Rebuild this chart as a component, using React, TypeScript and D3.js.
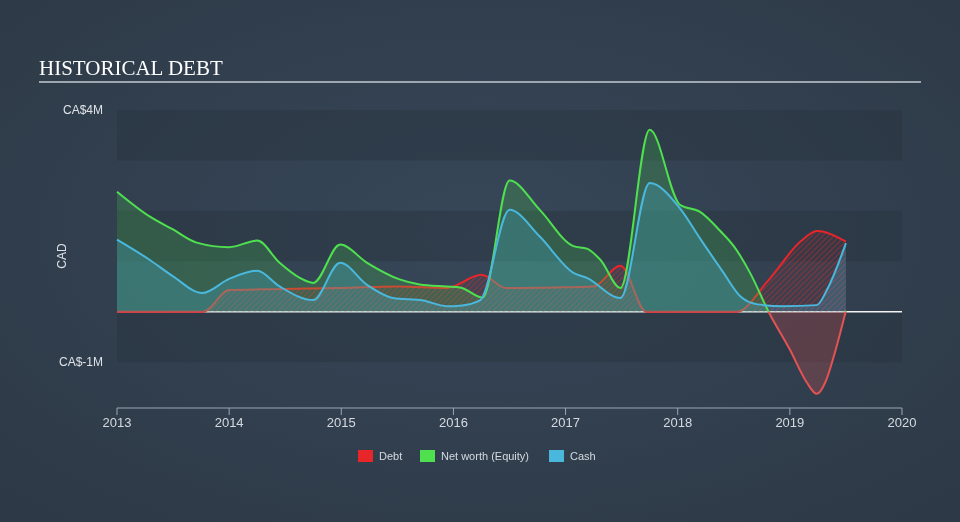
import React from "react";
import * as d3 from "d3";

const W = 960;
const H = 522;

// ---- data (CA$ millions, decimal years) ----
const debtT = [2013.0, 2013.5, 2013.77, 2014.0, 2014.5, 2015.0, 2015.5, 2015.94, 2016.25, 2016.47, 2016.9, 2017.25, 2017.49, 2017.72, 2018.0, 2018.53, 2018.8, 2019.1, 2019.24, 2019.5];
const debtV = [0, 0, 0, 0.43, 0.45, 0.47, 0.5, 0.47, 0.73, 0.47, 0.48, 0.5, 0.91, 0, 0, 0, 0.6, 1.4, 1.6, 1.39];

const equityT = [2013.0, 2013.29, 2013.5, 2013.71, 2014.0, 2014.25, 2014.45, 2014.63, 2014.75, 2014.99, 2015.23, 2015.52, 2015.7, 2015.94, 2016.06, 2016.26, 2016.5, 2016.77, 2017.07, 2017.19, 2017.31, 2017.49, 2017.75, 2018.02, 2018.2, 2018.38, 2018.5, 2018.65, 2018.81, 2019.0, 2019.15, 2019.24, 2019.32, 2019.39, 2019.5];
const equityV = [2.38, 1.89, 1.63, 1.37, 1.28, 1.41, 0.97, 0.67, 0.57, 1.33, 0.97, 0.64, 0.54, 0.5, 0.48, 0.28, 2.6, 2.02, 1.3, 1.25, 1.03, 0.47, 3.61, 2.12, 1.98, 1.6, 1.3, 0.75, 0, -0.75, -1.4, -1.63, -1.38, -0.9, 0.02];

const cashT = [2013.0, 2013.29, 2013.5, 2013.76, 2014.0, 2014.25, 2014.45, 2014.75, 2014.99, 2015.23, 2015.46, 2015.73, 2015.94, 2016.06, 2016.24, 2016.5, 2016.77, 2017.07, 2017.19, 2017.49, 2017.75, 2018.02, 2018.2, 2018.4, 2018.56, 2018.7, 2018.94, 2019.24, 2019.33, 2019.5];
const cashV = [1.43, 1.03, 0.7, 0.37, 0.65, 0.81, 0.5, 0.23, 0.97, 0.53, 0.27, 0.22, 0.11, 0.12, 0.23, 2.02, 1.49, 0.77, 0.67, 0.27, 2.55, 2.05, 1.45, 0.8, 0.3, 0.15, 0.11, 0.13, 0.43, 1.36];

const xTicks = [2013, 2014, 2015, 2016, 2017, 2018, 2019, 2020];
const yTickValues = [4, -1];
const yTickLabels = ["CA$4M", "CA$-1M"];
const bandStarts = [4, 2, 0];

const legendNames = ["Debt", "Net worth (Equity)", "Cash"];
const legendColors = ["#e8262a", "#4fe04f", "#49b8dc"];
const legendX = [358, 420, 549];

type P = { t: number; v: number };
const zip = (ts: number[], vs: number[]): P[] => ts.map((t, i) => ({ t, v: vs[i] }));

export default function App() {
  const left = 117, right = 902, top = 110, bottom = 410;
  const x = d3.scaleLinear().domain([2013, 2020]).range([left, right]);
  const y = d3.scaleLinear().domain([-1.95, 4]).range([bottom, top]);
  const y0 = y(0);

  const debt = zip(debtT, debtV);
  const equity = zip(equityT, equityV);
  const cash = zip(cashT, cashV);

  const area = d3.area<P>().x(d => x(d.t)).y0(y0).y1(d => y(d.v)).curve(d3.curveMonotoneX);
  const line = d3.line<P>().x(d => x(d.t)).y(d => y(d.v)).curve(d3.curveMonotoneX);

  const sans = "Arial, 'Liberation Sans', Helvetica, sans-serif";

  return (
    <svg width={W} height={H} style={{ position: "fixed", left: 0, top: 0 }}>
      <defs>
        <radialGradient id="bg" cx="50%" cy="45%" r="70%">
          <stop offset="0%" stopColor="#374759" />
          <stop offset="100%" stopColor="#2d3946" />
        </radialGradient>
        <pattern id="hatch" width="4" height="4" patternUnits="userSpaceOnUse" patternTransform="rotate(45)">
          <line x1="0" y1="0" x2="0" y2="4" stroke="#e8262a" strokeWidth="1.3" strokeOpacity="0.65" />
        </pattern>
        <clipPath id="above">
          <rect x={0} y={0} width={W} height={y0} />
        </clipPath>
        <clipPath id="below">
          <rect x={0} y={y0} width={W} height={H - y0} />
        </clipPath>
      </defs>
      <rect x={0} y={0} width={W} height={H} fill="url(#bg)" />

      {/* title */}
      <text x={39} y={75} fontFamily="'Liberation Serif', 'Times New Roman', serif" fontSize={21} fill="#ffffff">HISTORICAL DEBT</text>
      <line x1={39} x2={921} y1={82} y2={82} stroke="#c5cad0" strokeWidth={1.5} />

      {/* bands */}
      {bandStarts.map(b => (
        <rect key={b} x={left} width={right - left} y={y(b)} height={y(b - 1) - y(b)} fill="#28333f" opacity={0.45} />
      ))}

      {/* y labels */}
      {yTickValues.map((v, i) => (
        <text key={v} x={103} y={y(v)} dy="0.35em" textAnchor="end" fontFamily={sans} fontSize={12} fill="#dfe3e8">{yTickLabels[i]}</text>
      ))}
      <text transform={`translate(66,${(top + bottom) / 2 - 4}) rotate(-90)`} textAnchor="middle" fontFamily={sans} fontSize={12} fill="#dfe3e8">CAD</text>

      {/* zero line */}
      <line x1={left} x2={right} y1={y0} y2={y0} stroke="#f2f2f2" strokeWidth={1.5} />

      {/* debt */}
      <path d={area(debt) || ""} fill="#e8262a" fillOpacity={0.07} />
      <path d={area(debt) || ""} fill="url(#hatch)" />
      <path d={line(debt) || ""} fill="none" stroke="#e8262a" strokeWidth={2} />

      {/* equity fill */}
      <path d={area(equity) || ""} fill="#4fe04f" fillOpacity={0.2} clipPath="url(#above)" />
      <path d={area(equity) || ""} fill="#e35353" fillOpacity={0.25} clipPath="url(#below)" />

      {/* cash fill */}
      <path d={area(cash) || ""} fill="#49b8dc" fillOpacity={0.25} />

      {/* lines */}
      <path d={line(equity) || ""} fill="none" stroke="#4fe04f" strokeWidth={2} clipPath="url(#above)" />
      <path d={line(equity) || ""} fill="none" stroke="#e35353" strokeWidth={2} clipPath="url(#below)" />
      <path d={line(cash) || ""} fill="none" stroke="#49b8dc" strokeWidth={2} />

      {/* x axis */}
      <line x1={left} x2={right} y1={408} y2={408} stroke="#9aa6b2" strokeWidth={1.2} />
      {xTicks.map(t => (
        <g key={t}>
          <line x1={x(t)} x2={x(t)} y1={408} y2={415} stroke="#9aa6b2" strokeWidth={1} />
          <text x={x(t)} y={422} dy="0.35em" textAnchor="middle" fontFamily={sans} fontSize={13} fill="#d5dae0">{t}</text>
        </g>
      ))}

      {/* legend */}
      {legendNames.map((n, i) => (
        <g key={n}>
          <rect x={legendX[i]} y={450} width={15} height={12} fill={legendColors[i]} />
          <text x={legendX[i] + 21} y={456} dy="0.35em" fontFamily={sans} fontSize={11} fill="#d5dae0">{n}</text>
        </g>
      ))}
    </svg>
  );
}
